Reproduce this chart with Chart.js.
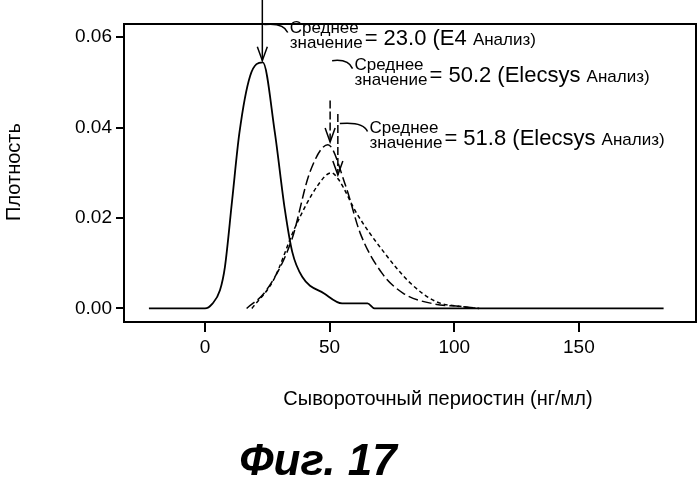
<!DOCTYPE html><html><head><meta charset="utf-8">
<script src="https://cdn.jsdelivr.net/npm/chart.js@4/dist/chart.umd.min.js"></script>
<style>body{margin:0;background:#fff}#w{width:699px;height:479px}</style></head><body><div id="w"><canvas id="c"></canvas></div>
<script>
const xTicks=[0,50,100,150];
const yTicks=[0,0.02,0.04,0.06];
const e4X=[-22.5,0,2.9,6,8,10.9,13.8,18.1,23.2,28,32,35,39,47.8,55,65.2,68,184];
const e4Y=[0,0,0.001,0.004,0.0092,0.024,0.0388,0.0514,0.0544,0.039,0.022,0.0125,0.007,0.0033,0.0011,0.0011,0,0];
const el1X=[16.7,24.6,34.8,42,49.3,56.5,62.3,71,79.7,91,103,110];
const el1Y=[0,0.004,0.0152,0.030,0.0362,0.027,0.0166,0.0078,0.0033,0.0011,0.0004,0];
const el2X=[18.8,27.5,36.2,45,50.7,53.6,60.9,71,82.6,92.8,103,110];
const el2Y=[0,0.0063,0.018,0.027,0.030,0.0285,0.021,0.013,0.0055,0.0015,0.0004,0];
const notes=[{x:23,label:'= 23.0 (E4 ',tail:'Анализ)',tx:34,ty:0.0597,y0:0.07,y1:0.0548},
{x:50.2,label:'= 50.2 (Elecsys ',tail:'Анализ)',tx:60,ty:0.0517,y0:0.046,y1:0.0368},
{x:53.3,label:'= 51.8 (Elecsys ',tail:'Анализ)',tx:66,ty:0.0378,y0:0.043,y1:0.0295}];
const pts=(xs,ys)=>xs.map((x,i)=>({x,y:ys[i]}));
const F='"Liberation Sans",Arial,sans-serif';
const deco={id:'deco',afterDraw(ch){const c=ch.ctx,xs=ch.scales.x,ys=ch.scales.y,a=ch.chartArea;
c.save();c.strokeStyle='#000';c.lineWidth=2;c.strokeRect(a.left,a.top,a.right-a.left,a.bottom-a.top);
c.fillStyle='#000';c.lineWidth=1.5;
notes.forEach((n,i)=>{const px=xs.getPixelForValue(n.x),p0=ys.getPixelForValue(n.y0),p1=ys.getPixelForValue(n.y1);
c.setLineDash(i?[8,3]:[]);c.beginPath();c.moveTo(px,Math.max(p0,0));c.lineTo(px,p1);c.stroke();c.setLineDash([]);
c.beginPath();c.moveTo(px-5,p1-14);c.lineTo(px,p1);c.lineTo(px+5,p1-14);c.stroke();
const tx=xs.getPixelForValue(n.tx),ty=ys.getPixelForValue(n.ty);
c.beginPath();c.moveTo(px+2,ty-14);c.quadraticCurveTo(tx-6,ty-16,tx-2,ty-6);c.stroke();
c.font='17px '+F;c.textBaseline='alphabetic';c.textAlign='left';
c.fillText('Среднее',tx,ty-5);c.fillText('значение',tx,ty+10);
const w=c.measureText('значение').width;
c.font='22px '+F;c.fillText(n.label,tx+w+2,ty+7);const w2=c.measureText(n.label).width;
c.font='17px '+F;c.fillText(n.tail,tx+w+2+w2,ty+7);});
c.font='20px '+F;c.textAlign='center';c.fillText('Сывороточный периостин (нг/мл)',438,405);
c.translate(20,172);c.rotate(-Math.PI/2);c.fillText('Плотность',0,0);c.restore();
c.save();c.font='italic bold 44px '+F;c.textAlign='center';c.fillStyle='#000';c.fillText('Фиг. 17',318,475);c.restore();}};
new Chart(document.getElementById('c'),{type:'line',data:{datasets:[
{data:pts(e4X,e4Y),borderColor:'#000',borderWidth:1.8,cubicInterpolationMode:'monotone',pointRadius:0},
{data:pts(el1X,el1Y),borderColor:'#000',borderWidth:1.5,borderDash:[10,4],cubicInterpolationMode:'monotone',pointRadius:0},
{data:pts(el2X,el2Y),borderColor:'#000',borderWidth:1.5,borderDash:[4,3],cubicInterpolationMode:'monotone',pointRadius:0}]},
options:{responsive:true,maintainAspectRatio:false,animation:false,layout:{padding:{top:24,right:3,left:0,bottom:0}},
plugins:{legend:{display:false},tooltip:{enabled:false}},
scales:{x:{type:'linear',min:-32.5,max:197,afterBuildTicks:s=>{s.ticks=xTicks.map(v=>({value:v}))},afterFit:s=>{s.height=157},
grid:{drawOnChartArea:false,tickLength:10,color:'#000',lineWidth:2},border:{display:false},
ticks:{color:'#000',font:{size:19,family:F},padding:4,maxRotation:0}},
y:{min:-0.003,max:0.0629,afterBuildTicks:s=>{s.ticks=yTicks.map(v=>({value:v}))},afterFit:s=>{s.width=124},
grid:{drawOnChartArea:false,tickLength:8,color:'#000',lineWidth:2},border:{display:false},
ticks:{color:'#000',font:{size:19,family:F},padding:4,callback:v=>v.toFixed(2)}}}},plugins:[deco]});
</script></body></html>
